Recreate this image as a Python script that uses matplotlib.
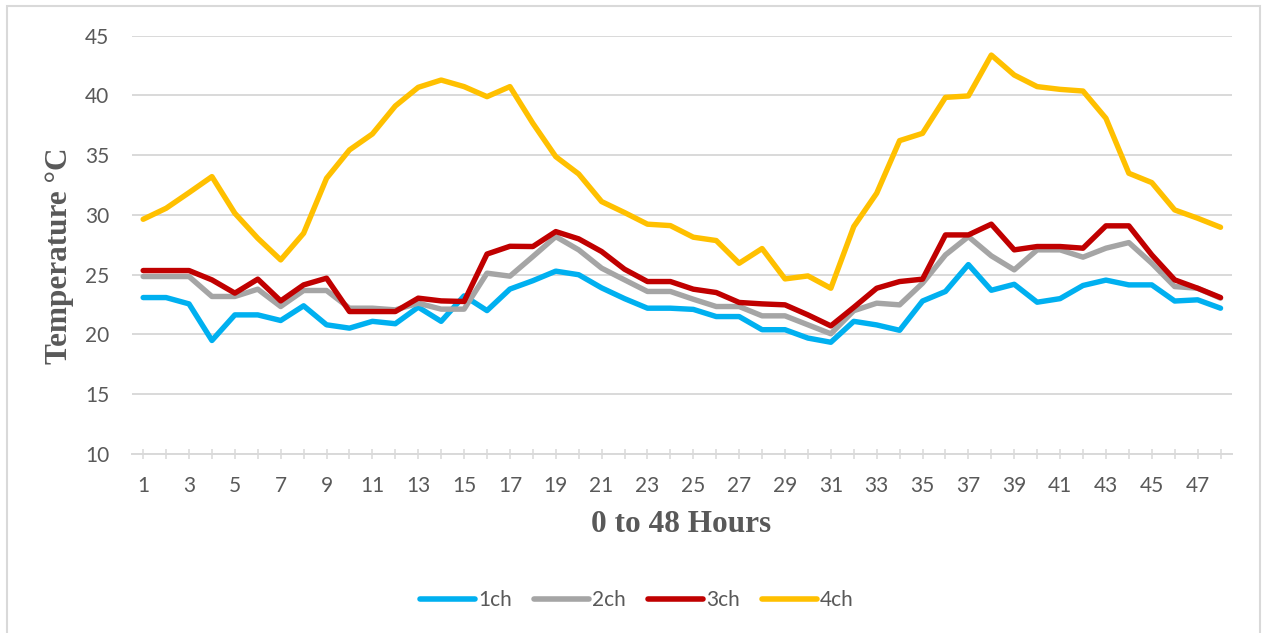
import matplotlib
matplotlib.use("Agg")
import matplotlib.pyplot as plt
from matplotlib.patches import Rectangle

hours = list(range(1, 49))
ch1 = [23.09, 23.09, 22.56, 19.5, 21.64, 21.64, 21.17, 22.4, 20.81, 20.53,
       21.1, 20.9, 22.29, 21.1, 23.23, 22.0, 23.8, 24.5, 25.3, 25.0,
       23.9, 23.0, 22.2, 22.2, 22.1, 21.5, 21.5, 20.4, 20.4, 19.7,
       19.35, 21.1, 20.8, 20.35, 22.8, 23.6, 25.85, 23.7, 24.2, 22.7,
       23.0, 24.1, 24.55, 24.15, 24.15, 22.8, 22.9, 22.2]
ch2 = [24.85, 24.85, 24.85, 23.18, 23.18, 23.79, 22.34, 23.68, 23.68, 22.2,
       22.2, 22.06, 22.62, 22.12, 22.12, 25.13, 24.88, 26.52, 28.19, 27.08,
       25.55, 24.57, 23.6, 23.6, 22.95, 22.34, 22.34, 21.56, 21.56, 20.81,
       20.06, 21.99, 22.62, 22.48, 24.29, 26.66, 28.19, 26.58, 25.41, 27.08,
       27.08, 26.47, 27.22, 27.69, 25.96, 24.01, 23.87, 23.04]
ch3 = [25.35, 25.35, 25.35, 24.57, 23.46, 24.63, 22.81, 24.15, 24.71, 21.92,
       21.92, 21.92, 23.04, 22.81, 22.76, 26.73, 27.38, 27.36, 28.61, 28.0,
       26.94, 25.46, 24.43, 24.43, 23.79, 23.51, 22.68, 22.56, 22.48, 21.64,
       20.72, 22.27, 23.87, 24.43, 24.63, 28.33, 28.33, 29.23, 27.08, 27.36,
       27.36, 27.22, 29.09, 29.09, 26.66, 24.57, 23.87, 23.09]
ch4 = [29.64, 30.56, 31.87, 33.21, 30.14, 28.05, 26.24, 28.47, 33.07, 35.44,
       36.78, 39.12, 40.68, 41.29, 40.74, 39.9, 40.74, 37.67, 34.88, 33.43,
       31.12, 30.2, 29.23, 29.11, 28.14, 27.86, 25.96, 27.19, 24.65, 24.9,
       23.87, 29.03, 31.82, 36.22, 36.83, 39.84, 39.96, 43.38, 41.71, 40.74,
       40.51, 40.37, 38.09, 33.49, 32.71, 30.42, 29.73, 28.97]

labels = ["1ch", "2ch", "3ch", "4ch"]
colors = ["#00B0F0", "#A5A5A5", "#C00000", "#FFC000"]
yticks = [10, 15, 20, 25, 30, 35, 40, 45]

text_col = "#595959"
grid_col = "#D9D9D9"
plt.rcParams["font.family"] = ["Lato", "DejaVu Sans"]

W, H = 1265, 633
fig = plt.figure(figsize=(W / 100, H / 100), dpi=100)
ax = fig.add_axes([131.7 / W, 1 - 454 / H, (1232 - 131.7) / W, (454 - 35.7) / H])

for series, name, c in zip([ch1, ch2, ch3, ch4], labels, colors):
    ax.plot(hours, series, color=c, lw=3.9, label=name,
            solid_joinstyle="round", solid_capstyle="round")

ax.set_xlim(0.5, 48.5)
ax.set_ylim(10, 45)
ax.set_yticks(yticks)
ax.set_xticks(hours)
ax.set_xticklabels([str(h) if h % 2 == 1 else "" for h in hours])

ax.yaxis.grid(True, color=grid_col, lw=1.4)
ax.set_axisbelow(True)
for s in ["top", "right", "left"]:
    ax.spines[s].set_visible(False)
ax.spines["bottom"].set_color(grid_col)
ax.spines["bottom"].set_linewidth(1.4)

ax.tick_params(axis="y", length=0, pad=16, labelsize=15, labelcolor=text_col)
ax.tick_params(axis="x", direction="inout", length=7.5, width=1.1, color=grid_col,
               pad=12, labelsize=15, labelcolor=text_col)

fig.text(59 / W, 1 - 256 / H, "Temperature °C", rotation=90, ha="center", va="center",
         family="Liberation Serif", fontweight="bold", fontsize=22.5, color=text_col)
fig.text(681 / W, 1 - 525 / H, "0 to 48 Hours", ha="center", va="center",
         family="Liberation Serif", fontweight="bold", fontsize=22.5, color=text_col)

leg = fig.legend(loc="center", bbox_to_anchor=(637 / W, 1 - 600 / H), ncol=4,
                 frameon=False, fontsize=15, handlelength=2.65, handletextpad=0.15,
                 columnspacing=1.05, labelcolor=text_col)
for line in leg.get_lines():
    line.set_linewidth(4)
    line.set_solid_capstyle("round")

fig.patches.append(Rectangle((7 / W, -0.05), 1253 / W, 1 - 6 / H + 0.05,
                             transform=fig.transFigure, fill=False,
                             ec=grid_col, lw=1.5))

fig.savefig("out.png", dpi=100)
